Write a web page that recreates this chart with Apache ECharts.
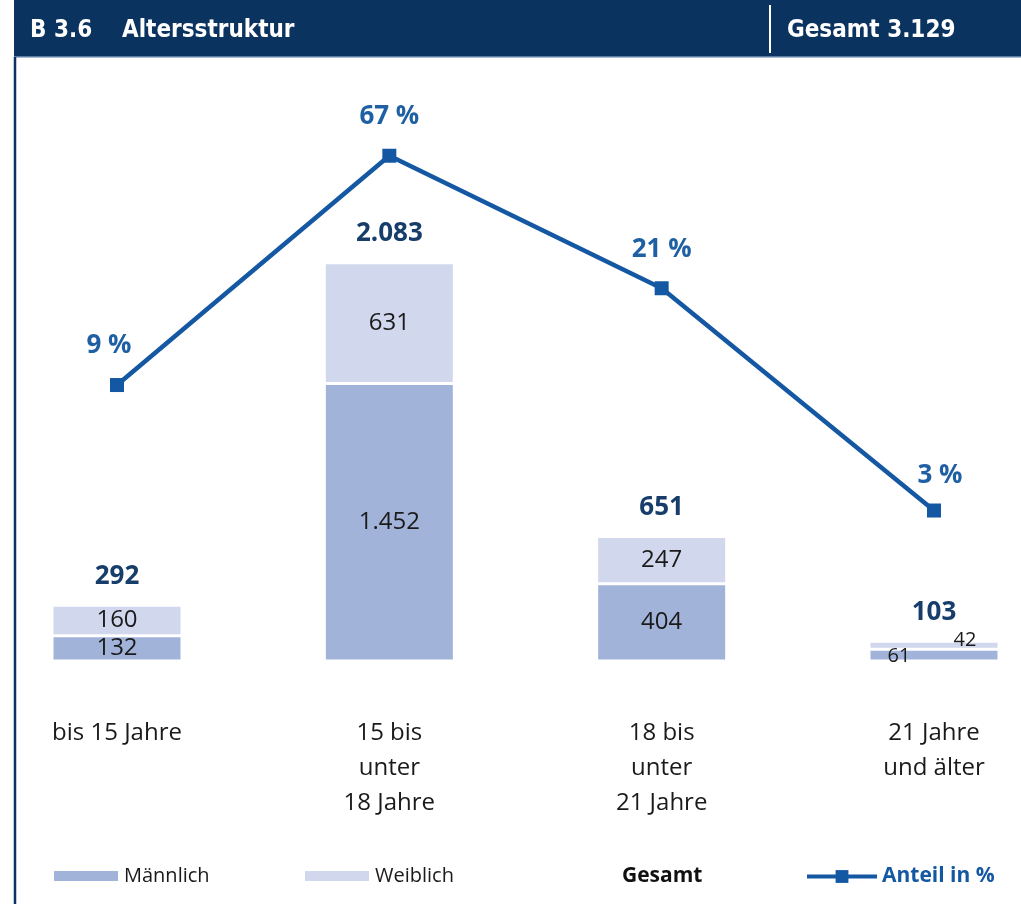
<!DOCTYPE html>
<html>
<head>
<meta charset="utf-8">
<script src="https://cdn.jsdelivr.net/npm/echarts@6/dist/echarts.min.js"></script>
<style>
  html, body { margin: 0; padding: 0; background: #fff; }
  #chart { width: 1021px; height: 904px; }
</style>
</head>
<body>
<div id="chart"></div>
<script>
const categories = ['bis 15 Jahre', '15 bis\nunter\n18 Jahre', '18 bis\nunter\n21 Jahre', '21 Jahre\nund älter'];
const maennlich = [132, 1452, 404, 61];
const weiblich = [160, 631, 247, 42];
const gesamt = [292, 2083, 651, 103];
const anteil = [9, 67, 21, 3];
const gesamtTitel = 'Gesamt 3.129';

const navy = '#0b335f';
const blue = '#1457a2';
const font = '"Open Sans", "Noto Sans", sans-serif';
const headFont = 'bold 24px "DejaVu Sans Condensed", "Liberation Sans Narrow", sans-serif';

function fmt(v) {
  return String(v).replace(/\B(?=(\d{3})+(?!\d))/g, '.');
}

let chartDom = document.getElementById('chart');
let myChart = echarts.init(chartDom);
let option;

// the small last bar gets its labels pushed beside it
const maennlichData = maennlich.map((v, i) => i === 3
  ? {value: v, label: {fontSize: 20, offset: [-35, 1]}}
  : v);
const weiblichData = weiblich.map((v, i) => i === 3
  ? {value: v, label: {fontSize: 20, offset: [31, -5]}}
  : v);
const anteilData = anteil.map((v, i) => {
  if (i === 0) return {value: v, label: {offset: [-8, 0]}};
  if (i === 3) return {value: v, label: {offset: [6, 4]}};
  return v;
});

option = {
  animation: false,
  textStyle: {fontFamily: font},
  grid: [
    {left: 117, right: 87, top: 183, bottom: 243},
    {left: 117, right: 87, top: 110, bottom: 268}
  ],
  xAxis: [
    {
      type: 'category',
      gridIndex: 0,
      data: categories,
      boundaryGap: false,
      axisLine: {show: false},
      axisTick: {show: false},
      axisLabel: {
        margin: 55,
        fontSize: 24,
        lineHeight: 35,
        color: '#1a1a1a',
        fontFamily: font
      }
    },
    {
      type: 'category',
      gridIndex: 1,
      data: categories,
      boundaryGap: false,
      show: false
    }
  ],
  yAxis: [
    {type: 'value', gridIndex: 0, min: 0, max: 2500, show: false},
    {type: 'log', gridIndex: 1, min: 1, max: 100, logBase: 10, show: false}
  ],
  legend: [
    {
      left: 52, top: 866, padding: 0,
      itemWidth: 66, itemHeight: 12,
      data: [{name: 'Männlich', icon: 'rect'}],
      textStyle: {fontSize: 20, color: '#1a1a1a', fontFamily: font}
    },
    {
      left: 303, top: 866, padding: 0,
      itemWidth: 66, itemHeight: 12,
      data: [{name: 'Weiblich', icon: 'rect'}],
      textStyle: {fontSize: 20, color: '#1a1a1a', fontFamily: font}
    },
    {
      left: 617, top: 866, padding: 0,
      itemWidth: 0, itemHeight: 12,
      data: [{name: 'Gesamt', icon: 'none'}],
      textStyle: {fontSize: 21, fontWeight: 'bold', color: '#111', fontFamily: font}
    },
    {
      left: 805, top: 866, padding: 0,
      itemWidth: 70, itemHeight: 16,
      lineStyle: {width: 4},
      data: ['Anteil in %'],
      textStyle: {fontSize: 21, fontWeight: 'bold', color: blue, fontFamily: font}
    }
  ],
  graphic: [
    {
      type: 'rect', left: 14, top: 0, z: 10,
      shape: {width: 1007, height: 57},
      style: {fill: navy}
    },
    {
      type: 'rect', left: 14, top: 56, z: 10,
      shape: {width: 1007, height: 1.5},
      style: {fill: '#5c7ba3'}
    },
    {
      type: 'line', z: 11,
      shape: {x1: 770, y1: 5, x2: 770, y2: 53},
      style: {stroke: '#fff', lineWidth: 2}
    },
    {
      type: 'line', z: 10,
      shape: {x1: 15, y1: 57, x2: 15, y2: 904},
      style: {stroke: navy, lineWidth: 2.5}
    },
    {
      type: 'text', left: 30, top: 19, z: 11,
      style: {text: 'B 3.6', fill: '#fff', font: headFont}
    },
    {
      type: 'text', left: 122, top: 19, z: 11,
      style: {text: 'Altersstruktur', fill: '#fff', font: headFont}
    },
    {
      type: 'text', left: 787, top: 19, z: 11,
      style: {text: gesamtTitel, fill: '#fff', font: headFont}
    }
  ],
  series: [
    {
      name: 'Männlich',
      type: 'bar',
      xAxisIndex: 0, yAxisIndex: 0,
      stack: 'alter',
      barWidth: 130,
      clip: false,
      itemStyle: {color: '#a2b3da', borderColor: '#fff', borderWidth: 1.5},
      label: {
        show: true, position: 'inside',
        fontSize: 24, color: '#1a1a1a', fontFamily: font,
        formatter: p => fmt(p.value)
      },
      data: maennlichData
    },
    {
      name: 'Weiblich',
      type: 'bar',
      xAxisIndex: 0, yAxisIndex: 0,
      stack: 'alter',
      barWidth: 130,
      clip: false,
      itemStyle: {color: '#d1d7ec', borderColor: '#fff', borderWidth: 1.5},
      label: {
        show: true, position: 'inside',
        fontSize: 24, color: '#1a1a1a', fontFamily: font,
        formatter: p => fmt(p.value)
      },
      data: weiblichData
    },
    {
      name: 'Gesamt',
      type: 'bar',
      xAxisIndex: 0, yAxisIndex: 0,
      barWidth: 130,
      barGap: '-100%',
      clip: false,
      z: 1,
      itemStyle: {color: 'rgba(0,0,0,0)'},
      label: {
        show: true, position: 'top', distance: 16,
        fontSize: 26, fontWeight: 'bold', color: '#173d6b', fontFamily: font,
        formatter: p => fmt(p.value)
      },
      data: gesamt
    },
    {
      name: 'Anteil in %',
      type: 'line',
      xAxisIndex: 1, yAxisIndex: 1,
      symbol: 'rect',
      symbolSize: 14,
      clip: false,
      lineStyle: {color: blue, width: 4.5},
      itemStyle: {color: blue},
      label: {
        show: true, position: 'top', distance: 19,
        fontSize: 26, fontWeight: 'bold', color: '#1f5fa3', fontFamily: font,
        formatter: p => p.value + ' %'
      },
      data: anteilData
    }
  ]
};

option && myChart.setOption(option);
</script>
</body>
</html>
